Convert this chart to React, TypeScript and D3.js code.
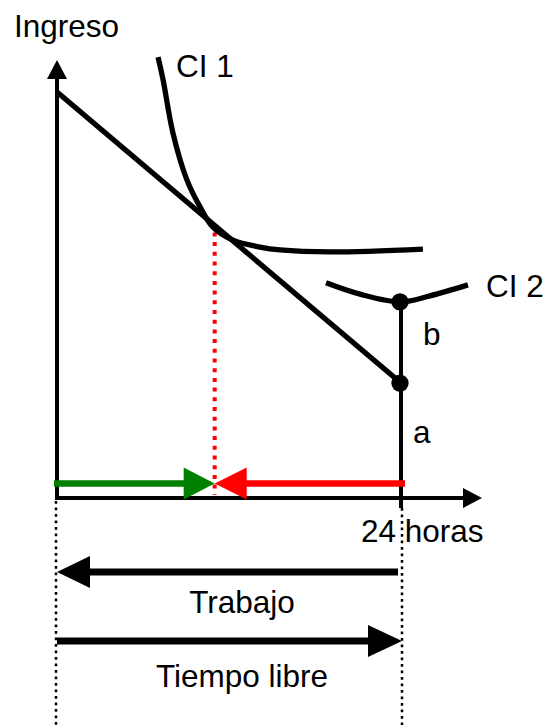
import React from "react";
import * as d3 from "d3";

// ---- data (hours of free time vs. income) ----
const axisHours = [0, 29.65];
const axisIncomeTop = 107.9;
const budgetHours = [0, 24];
const budgetIncome = [100, 28.3];
const ci1Hours = [7.05, 7.4, 8.09, 9.07, 9.98, 10.88, 12.28, 14.16, 15.56, 19.05, 25.53];
const ci1Income = [108.6, 103.0, 89.9, 78.3, 71.7, 66.7, 63.5, 61.8, 61.1, 60.6, 61.3];
const ci2Hours = [18.77, 21.14, 24, 26.02, 28.67];
const ci2Income = [53.0, 50.2, 48.3, 49.8, 52.5];
const endowmentHour = 24;
const dotIncome = [48.3, 28.3];
const optimumHour = 11;
const curveLabels = ["CI 1", "CI 2"];
const yAxisLabel = "Ingreso";
const xAxisLabel = "24 horas";
const segmentLabels = ["a", "b"];
const bottomLabels = ["Trabajo", "Tiempo libre"];

const W = 559;
const H = 725;
const FONT = "'Liberation Sans', Arial, Helvetica, sans-serif";

export default function App() {
  const x = d3.scaleLinear().domain([0, 24]).range([57, 401]);
  const y = d3.scaleLinear().domain([0, 100]).range([498, 92]);

  const curve = d3
    .line<[number, number]>()
    .x((d) => x(d[0]))
    .y((d) => y(d[1]))
    .curve(d3.curveCatmullRom.alpha(0.5));
  const straight = d3
    .line<[number, number]>()
    .x((d) => x(d[0]))
    .y((d) => y(d[1]));

  const ci1 = ci1Hours.map((h, i) => [h, ci1Income[i]] as [number, number]);
  const ci2 = ci2Hours.map((h, i) => [h, ci2Income[i]] as [number, number]);
  const budget = budgetHours.map((h, i) => [h, budgetIncome[i]] as [number, number]);

  const x0 = x(0);
  const x24 = x(endowmentHour);
  const y0 = y(0);
  const xOpt = x(optimumHour);
  const slope = (budgetIncome[1] - budgetIncome[0]) / (budgetHours[1] - budgetHours[0]);
  const yOptPx = y(budgetIncome[0] + slope * optimumHour);

  // horizontal arrow helper
  const hArrow = (
    xs: number,
    xt: number,
    yy: number,
    color: string,
    sw: number,
    hl: number,
    hh: number,
    key: string
  ) => {
    const dir = xt > xs ? 1 : -1;
    const base = xt - dir * hl;
    return (
      <g key={key}>
        <line x1={xs} x2={base + dir * 1} y1={yy} y2={yy} stroke={color} strokeWidth={sw} />
        <polygon points={`${xt},${yy} ${base},${yy - hh} ${base},${yy + hh}`} fill={color} />
      </g>
    );
  };

  const arrowY = y0 - 14.5;

  return (
    <svg
      width={W}
      height={H}
      style={{ position: "absolute", left: 0, top: 0, background: "#fff" }}
      fontFamily={FONT}
    >
      <rect width={W} height={H} fill="#fff" />

      {/* dotted guide lines */}
      <line x1={x0 - 1} x2={x0 - 1} y1={y0 + 3} y2={H} stroke="#000" strokeWidth={2.5} strokeDasharray="2.7,3.8" />
      <line x1={x24 + 1} x2={x24 + 1} y1={y0 + 10} y2={H} stroke="#000" strokeWidth={2.5} strokeDasharray="2.7,3.8" />

      {/* red dotted at optimum */}
      <line x1={xOpt} x2={xOpt} y1={yOptPx + 7} y2={y0 - 3} stroke="#ff0000" strokeWidth={4} strokeDasharray="4,5.7" />

      {/* axes */}
      <line x1={x0} x2={x0} y1={y0 + 2} y2={y(axisIncomeTop) + 17} stroke="#000" strokeWidth={4} />
      <polygon
        points={`${x0},${y(axisIncomeTop)} ${x0 - 10},${y(axisIncomeTop) + 19} ${x0 + 10},${y(axisIncomeTop) + 19}`}
        fill="#000"
      />
      <line x1={x0 - 2} x2={x(axisHours[1]) - 17} y1={y0} y2={y0} stroke="#000" strokeWidth={4} />
      <polygon
        points={`${x(axisHours[1])},${y0} ${x(axisHours[1]) - 19},${y0 - 10} ${x(axisHours[1]) - 19},${y0 + 10}`}
        fill="#000"
      />

      {/* vertical endowment line */}
      <line x1={x24} x2={x24} y1={y(dotIncome[0])} y2={y0 + 10} stroke="#000" strokeWidth={4} />

      {/* budget line */}
      <path d={straight(budget) ?? ""} fill="none" stroke="#000" strokeWidth={5.3} />

      {/* indifference curves */}
      <path d={curve(ci1) ?? ""} fill="none" stroke="#000" strokeWidth={5.3} />
      <path d={curve(ci2) ?? ""} fill="none" stroke="#000" strokeWidth={5.3} />

      {/* dots */}
      {dotIncome.map((v, i) => (
        <circle key={i} cx={x24 - 1} cy={y(v)} r={8.7} fill="#000" />
      ))}

      {/* green / red arrows */}
      {hArrow(x0 - 3, xOpt, arrowY, "#008000", 6.5, 31, 16, "g")}
      {hArrow(x24 + 4, xOpt, arrowY, "#ff0000", 6.5, 32, 16, "r")}

      {/* bottom arrows */}
      {hArrow(x24 - 3, x0, 572, "#000", 7, 33, 16, "t")}
      {hArrow(x0, x24 + 1, 641, "#000", 7, 34, 16, "l")}

      {/* texts */}
      <g fontSize={31.5} fill="#000">
        <text x={14} y={37}>{yAxisLabel}</text>
        <text x={176} y={77}>{curveLabels[0]}</text>
        <text x={486} y={297}>{curveLabels[1]}</text>
        <text x={423} y={345}>{segmentLabels[1]}</text>
        <text x={413} y={443}>{segmentLabels[0]}</text>
        <text x={361} y={542}>{xAxisLabel}</text>
        <text x={242} y={613} textAnchor="middle">{bottomLabels[0]}</text>
        <text x={242} y={687} textAnchor="middle">{bottomLabels[1]}</text>
      </g>
    </svg>
  );
}
